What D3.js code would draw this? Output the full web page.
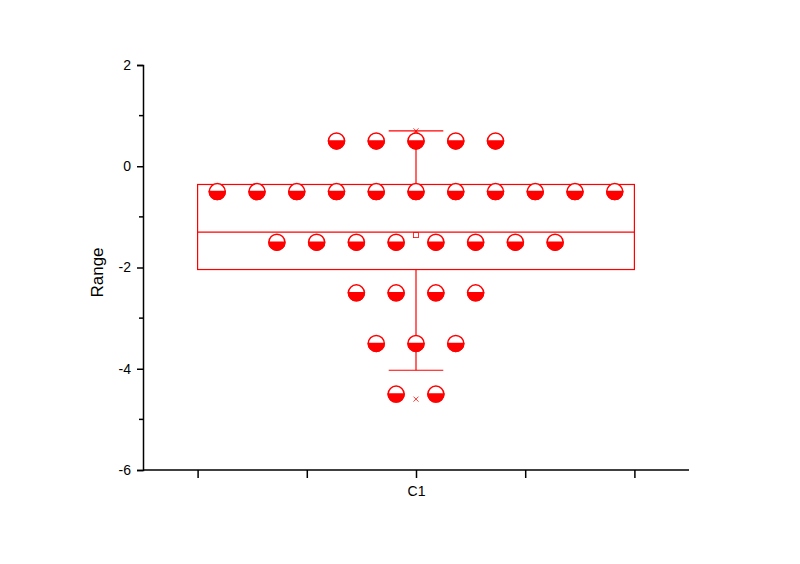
<!DOCTYPE html>
<html><head><meta charset="utf-8">
<script src="https://cdn.jsdelivr.net/npm/d3@7"></script>
<style>body{margin:0;background:#fff}svg{display:block}</style>
</head><body>
<svg id="c" width="800" height="564"></svg>
<script>
// ---- data ----
const categories = ["C1"];
const binCenters = [0.5, -0.5, -1.5, -2.5, -3.5, -4.5];
const binCounts  = [5, 11, 8, 4, 3, 2];
const boxQ1 = -2.04, boxMedian = -1.3, boxQ3 = -0.36, boxMean = -1.36;
const whiskerLow = -4.03, whiskerHigh = 0.7;
const markMin = -4.6, markMax = 0.7;
const yTicks = [-6, -4, -2, 0, 2];
const yMinorTicks = [-5, -3, -1, 1];
const xTicks = [0.5, 0.75, 1, 1.25, 1.5];

// ---- layout ----
const svg = d3.select("#c");
const red = "#ff0000";
const font = "Liberation Sans, Arial, sans-serif";
const x = d3.scaleLinear().domain([0.375, 1.625]).range([143, 689]);
const y = d3.scaleLinear().domain([-6, 2]).range([470, 65]);
const catPos = 1, boxHalf = 0.5, capHalf = 0.0625, dotStep = 0.091, r = 8;

// y axis
const yAxis = svg.append("g").attr("transform", `translate(${x.range()[0]},0)`)
  .call(d3.axisLeft(y).tickValues(yTicks).tickSize(6).tickPadding(6).tickFormat(d => String(d)));
yAxis.select(".domain").attr("stroke", "#000").attr("stroke-width", 1.5);
yAxis.selectAll(".tick line").attr("stroke-width", 1.5);
yAxis.selectAll("text").attr("font-family", font).attr("font-size", 14).attr("fill", "#000");
svg.append("g").selectAll("line").data(yMinorTicks).join("line")
  .attr("x1", x.range()[0] - 4).attr("x2", x.range()[0])
  .attr("y1", d => y(d)).attr("y2", d => y(d)).attr("stroke", "#000").attr("stroke-width", 1.5);

// x axis
const xAxis = svg.append("g").attr("transform", `translate(0,${y.range()[0]})`)
  .call(d3.axisBottom(x).tickValues(xTicks).tickSize(8).tickPadding(8)
    .tickFormat(d => d === catPos ? categories[0] : ""));
xAxis.select(".domain").attr("stroke", "#000").attr("stroke-width", 1.5).attr("d", `M${x.range()[0]},0H${x.range()[1]}`);
xAxis.selectAll(".tick line").attr("stroke-width", 1.5);
xAxis.selectAll("text").attr("font-family", font).attr("font-size", 14).attr("fill", "#000");

// y label
svg.append("text").attr("transform", `translate(103,${(y(-6)+y(2))/2 + 5}) rotate(-90)`)
  .attr("text-anchor", "middle").attr("font-family", font)
  .attr("font-size", 17).text("Range");

// box
const g = svg.append("g").attr("stroke", red).attr("fill", "none").attr("stroke-width", 1.2);
g.append("line").attr("x1", x(catPos)).attr("x2", x(catPos)).attr("y1", y(whiskerHigh)).attr("y2", y(boxQ3));
g.append("line").attr("x1", x(catPos)).attr("x2", x(catPos)).attr("y1", y(boxQ1)).attr("y2", y(whiskerLow));
[whiskerHigh, whiskerLow].forEach(v => g.append("line")
  .attr("x1", x(catPos - capHalf)).attr("x2", x(catPos + capHalf)).attr("y1", y(v)).attr("y2", y(v)));
g.append("rect").attr("x", x(catPos - boxHalf)).attr("y", y(boxQ3))
  .attr("width", x(catPos + boxHalf) - x(catPos - boxHalf)).attr("height", y(boxQ1) - y(boxQ3));
g.append("line").attr("x1", x(catPos - boxHalf)).attr("x2", x(catPos + boxHalf)).attr("y1", y(boxMedian)).attr("y2", y(boxMedian));
g.append("rect").attr("x", x(catPos) - 2.5).attr("y", y(boxMean) - 2.5).attr("width", 5).attr("height", 5).attr("stroke-width", 0.8);
[markMin, markMax].forEach(v => g.append("path").attr("stroke-width", 0.8)
  .attr("d", `M${x(catPos)-2.5},${y(v)-2.5}L${x(catPos)+2.5},${y(v)+2.5}M${x(catPos)+2.5},${y(v)-2.5}L${x(catPos)-2.5},${y(v)+2.5}`));

// dots
const dots = [];
binCenters.forEach((c, i) => {
  const n = binCounts[i];
  for (let k = 0; k < n; k++) dots.push({ v: c, off: (k - (n - 1) / 2) * dotStep });
});
const dg = svg.append("g").selectAll("g").data(dots).join("g")
  .attr("transform", d => `translate(${x(catPos + d.off)},${y(d.v)})`);
dg.append("circle").attr("r", r).attr("fill", "#fff").attr("stroke", red).attr("stroke-width", 1.5);
dg.append("path").attr("d", `M${-r},0A${r},${r} 0 0 0 ${r},0Z`).attr("fill", red).attr("stroke", red).attr("stroke-width", 1.5);
</script>
</body></html>
